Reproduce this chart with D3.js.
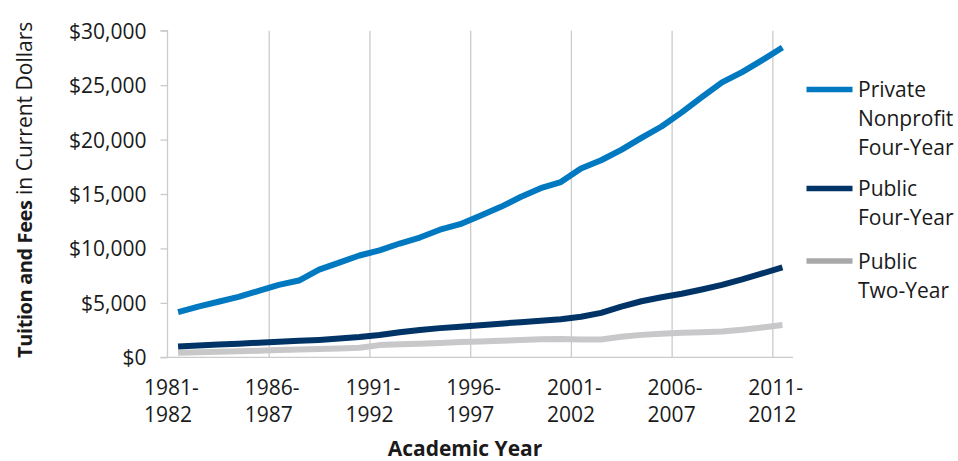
<!DOCTYPE html>
<html>
<head>
<meta charset="utf-8">
<script src="https://cdn.jsdelivr.net/npm/d3@7"></script>
<style>
  html, body { margin: 0; padding: 0; background: #fff; }
  svg { display: block; }
  text { font-family: "Open Sans", "Noto Sans", sans-serif; fill: #1a1a1a; }
</style>
</head>
<body>
<svg id="chart" width="958" height="461"></svg>
<script>
// Academic years, 1981-82 through 2011-12
const years = [
  "1981-1982","1982-1983","1983-1984","1984-1985","1985-1986",
  "1986-1987","1987-1988","1988-1989","1989-1990","1990-1991",
  "1991-1992","1992-1993","1993-1994","1994-1995","1995-1996",
  "1996-1997","1997-1998","1998-1999","1999-2000","2000-2001",
  "2001-2002","2002-2003","2003-2004","2004-2005","2005-2006",
  "2006-2007","2007-2008","2008-2009","2009-2010","2010-2011",
  "2011-2012"
];

// Published tuition and fees, current dollars
const privateNonprofit = [
  4150, 4650, 5100, 5550, 6100, 6650, 7050, 8050, 8700, 9350,
  9820, 10450, 11000, 11720, 12230, 13000, 13800, 14720, 15530, 16100,
  17350, 18100, 19050, 20150, 21200, 22500, 23900, 25250, 26200, 27300,
  28450
];
const publicFour = [
  1000, 1090, 1170, 1250, 1340, 1420, 1520, 1600, 1720, 1860,
  2050, 2300, 2500, 2680, 2800, 2950, 3090, 3230, 3350, 3500,
  3720, 4080, 4650, 5150, 5520, 5840, 6230, 6650, 7150, 7700,
  8250
];
const publicTwo = [
  420, 460, 500, 550, 600, 660, 720, 760, 800, 870,
  1120, 1190, 1250, 1310, 1400, 1460, 1520, 1580, 1650, 1680,
  1630, 1640, 1880, 2060, 2170, 2250, 2310, 2370, 2540, 2740,
  2960
];

const yTicks = [0, 5000, 10000, 15000, 20000, 25000, 30000];
const labelEvery = 5;

const seriesNames = [
  ["Private", "Nonprofit", "Four-Year"],
  ["Public", "Four-Year"],
  ["Public", "Two-Year"]
];
const seriesValues = [privateNonprofit, publicFour, publicTwo];
const lineColors = ["#0079C1", "#003366", "#C8C8CA"];
const keyColors = ["#0079C1", "#003366", "#A8A8A8"];

const svg = d3.select("#chart");
const plot = { left: 168, right: 792.5, top: 30.7, bottom: 357.3 };

const x = d3.scaleBand()
  .domain(years)
  .range([plot.left, plot.right])
  .padding(0);

const y = d3.scaleLinear()
  .domain([0, 30000])
  .range([plot.bottom, plot.top]);

const gridColor = "#CBCBCB";

// Vertical gridlines at every fifth year boundary
const labeled = years.filter((d, i) => i % labelEvery === 0);
svg.append("g")
  .selectAll("line")
  .data(labeled.slice(1))
  .join("line")
  .attr("x1", d => x(d) + 0.5)
  .attr("x2", d => x(d) + 0.5)
  .attr("y1", plot.top)
  .attr("y2", plot.bottom)
  .attr("stroke", gridColor)
  .attr("stroke-width", 1.3);

// Y axis
const yAxis = d3.axisLeft(y)
  .tickValues(yTicks)
  .tickSize(7)
  .tickPadding(14)
  .tickFormat(d => "$" + d3.format(",")(d));

const gy = svg.append("g")
  .attr("transform", `translate(${plot.left - 0.5},0)`)
  .call(yAxis);
gy.select(".domain").attr("stroke", gridColor).attr("stroke-width", 1.3)
  .attr("d", `M-7,${plot.top}H0V${plot.bottom}H-7`);
gy.selectAll(".tick line").attr("stroke", gridColor).attr("stroke-width", 1.3);
gy.selectAll(".tick text")
  .attr("font-size", 21)
  .attr("font-family", "'Open Sans', sans-serif")
  .attr("fill", "#1a1a1a")
  .attr("dy", "0.36em");

// X axis baseline
svg.append("line")
  .attr("x1", plot.left - 0.5)
  .attr("x2", plot.right + 0.5)
  .attr("y1", plot.bottom)
  .attr("y2", plot.bottom)
  .attr("stroke", gridColor)
  .attr("stroke-width", 1.3);

// Two-line year labels under each gridline
const xl = svg.append("g");
labeled.forEach(d => {
  const parts = d.split("-");
  const t = xl.append("text")
    .attr("font-size", 21);
  const l2 = t.append("tspan").attr("x", 0).attr("y", 422.3).text(parts[1]);
  const w = l2.node().getComputedTextLength();
  const x0 = x(d) - w / 2;
  l2.attr("x", x0);
  t.insert("tspan", "tspan").attr("x", x0).attr("y", 395).text(parts[0] + "-");
});

// Axis titles
svg.append("text")
  .attr("x", 465)
  .attr("y", 456)
  .attr("text-anchor", "middle")
  .attr("font-size", 21)
  .attr("font-weight", 700)
  .text("Academic Year");

const yt = svg.append("text")
  .attr("transform", "translate(32,358) rotate(-90)")
  .attr("text-anchor", "start")
  .attr("font-size", 21);
yt.append("tspan").attr("font-weight", 700).attr("font-size", 20)
  .attr("letter-spacing", -0.4).text("Tuition and Fees");
yt.append("tspan").text(" in Current Dollars");

// Series lines
const line = d3.line()
  .x((d, i) => x(years[i]) + x.bandwidth() / 2)
  .y(d => y(d));

const drawOrder = [2, 1, 0];
svg.append("g")
  .selectAll("path")
  .data(drawOrder)
  .join("path")
  .attr("d", k => line(seriesValues[k]))
  .attr("fill", "none")
  .attr("stroke", k => lineColors[k])
  .attr("stroke-width", 6)
  .attr("stroke-linejoin", "round");

// Legend
const legendTop = [89.5, 188.5, 261];
const lg = svg.append("g");
seriesNames.forEach((names, k) => {
  lg.append("line")
    .attr("x1", 806.5).attr("x2", 852.5)
    .attr("y1", legendTop[k]).attr("y2", legendTop[k])
    .attr("stroke", keyColors[k])
    .attr("stroke-width", 5.5);
  const t = lg.append("text").attr("font-size", 21);
  names.forEach((n, j) => {
    t.append("tspan")
      .attr("x", 858)
      .attr("y", legendTop[k] + 7.5 + j * 29)
      .text(n);
  });
});
</script>
</body>
</html>
